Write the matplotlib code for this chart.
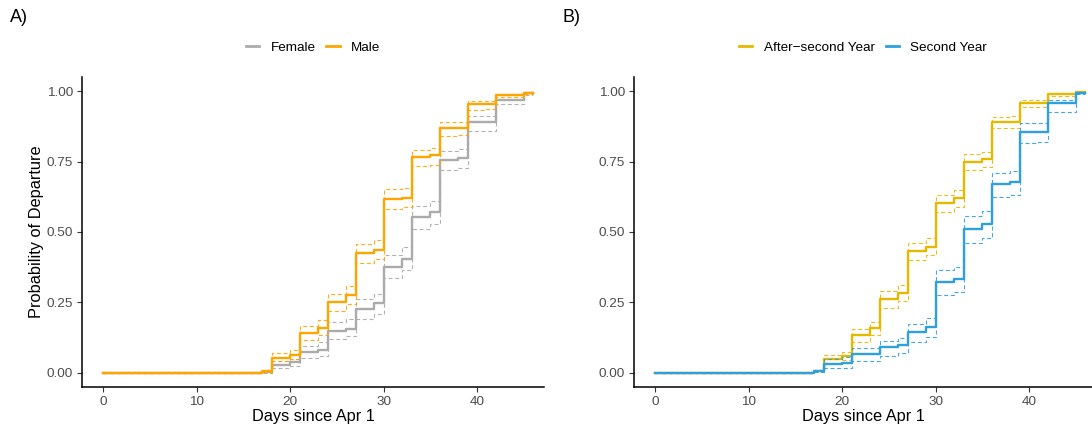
import numpy as np
import matplotlib
matplotlib.use("Agg")
import matplotlib.pyplot as plt

plt.rcParams['font.family'] = ['Liberation Sans', 'DejaVu Sans']

# days since Apr 1 where the curves change
days = [0, 17, 18, 20, 21, 23, 24, 26, 27, 29, 30, 32, 33, 35, 36, 38, 39, 41, 42, 44, 45, 46]

# panel A, sex
female = [0, 0.003, 0.029, 0.037, 0.073, 0.082, 0.147, 0.155, 0.228, 0.247, 0.377, 0.405,
          0.554, 0.570, 0.756, 0.761, 0.889, 0.889, 0.968, 0.968, 0.993, 0.993]
female_hi = [0, 0.006, 0.044, 0.050, 0.097, 0.110, 0.179, 0.190, 0.261, 0.280, 0.418, 0.445,
             0.591, 0.610, 0.789, 0.793, 0.912, 0.913, 0.986, 0.987, 0.998, 0.998]
female_lo = [0, 0.001, 0.019, 0.024, 0.052, 0.060, 0.122, 0.130, 0.193, 0.210, 0.338, 0.365,
             0.511, 0.530, 0.721, 0.727, 0.859, 0.860, 0.953, 0.954, 0.985, 0.985]
male = [0, 0.007, 0.054, 0.064, 0.141, 0.161, 0.250, 0.276, 0.426, 0.436, 0.617, 0.622,
        0.766, 0.773, 0.868, 0.870, 0.953, 0.955, 0.986, 0.987, 0.995, 0.995]
male_hi = [0, 0.010, 0.071, 0.082, 0.165, 0.188, 0.279, 0.309, 0.459, 0.471, 0.652, 0.655,
           0.792, 0.797, 0.889, 0.891, 0.965, 0.966, 0.989, 0.990, 0.997, 0.997]
male_lo = [0, 0.003, 0.044, 0.050, 0.118, 0.135, 0.218, 0.245, 0.390, 0.405, 0.582, 0.590,
           0.733, 0.738, 0.842, 0.845, 0.934, 0.936, 0.978, 0.980, 0.990, 0.990]

# panel B, age class
asy = [0, 0.005, 0.050, 0.061, 0.134, 0.158, 0.261, 0.285, 0.432, 0.448, 0.603, 0.621,
       0.750, 0.758, 0.892, 0.892, 0.956, 0.957, 0.989, 0.989, 0.996, 0.996]
asy_hi = [0, 0.008, 0.064, 0.075, 0.155, 0.180, 0.291, 0.312, 0.462, 0.477, 0.632, 0.648,
          0.776, 0.785, 0.909, 0.910, 0.968, 0.969, 0.993, 0.993, 0.998, 0.998]
asy_lo = [0, 0.002, 0.035, 0.046, 0.111, 0.135, 0.232, 0.255, 0.400, 0.418, 0.570, 0.590,
          0.721, 0.730, 0.868, 0.870, 0.942, 0.944, 0.982, 0.983, 0.992, 0.992]
sy = [0, 0.005, 0.032, 0.035, 0.066, 0.066, 0.091, 0.099, 0.144, 0.164, 0.323, 0.332,
      0.509, 0.529, 0.671, 0.676, 0.855, 0.856, 0.956, 0.956, 0.995, 0.995]
sy_hi = [0, 0.009, 0.049, 0.055, 0.090, 0.090, 0.114, 0.125, 0.175, 0.195, 0.364, 0.375,
         0.556, 0.574, 0.711, 0.716, 0.886, 0.887, 0.967, 0.967, 0.998, 0.998]
sy_lo = [0, 0.002, 0.016, 0.018, 0.041, 0.041, 0.061, 0.070, 0.108, 0.128, 0.276, 0.287,
         0.462, 0.480, 0.623, 0.630, 0.817, 0.818, 0.927, 0.927, 0.990, 0.990]

W, H = 1092, 433
fig = plt.figure(figsize=(W/100, H/100), dpi=100)

axA = fig.add_axes([82/W, (H-387)/H, 462/W, 310/H])
axB = fig.add_axes([634/W, (H-387)/H, 458/W, 310/H])

def curve(ax, est, hi, lo, col, lab):
    ax.step(days, hi, where='post', color=col, lw=0.8, ls=(0, (3.6, 2.4)), alpha=0.9)
    ax.step(days, lo, where='post', color=col, lw=0.8, ls=(0, (3.6, 2.4)), alpha=0.9)
    ax.step(days, est, where='post', color=col, lw=1.7, label=lab)

curve(axA, female, female_hi, female_lo, '#ABABAB', 'Female')
curve(axA, male, male_hi, male_lo, '#FFA500', 'Male')
curve(axB, asy, asy_hi, asy_lo, '#E7B800', 'After\u2212second Year')
curve(axB, sy, sy_hi, sy_lo, '#2E9FDF', 'Second Year')

axA.set_xlim(-2.3, 47.16)
axB.set_xlim(-2.3, 46.74)

for ax in [axA, axB]:
    ax.set_ylim(-0.05, 1.05)
    ax.set_xticks([0, 10, 20, 30, 40])
    ax.set_yticks([0, 0.25, 0.5, 0.75, 1.0])
    ax.set_yticklabels(['0.00', '0.25', '0.50', '0.75', '1.00'])
    ax.spines['top'].set_visible(False)
    ax.spines['right'].set_visible(False)
    ax.spines['left'].set_linewidth(1.1)
    ax.spines['bottom'].set_linewidth(1.1)
    ax.tick_params(length=3.5, width=0.8, color='#333333', labelcolor='#4D4D4D',
                   labelsize=9.7, pad=3)
    ax.set_xlabel('Days since Apr 1', fontsize=11.8, labelpad=1)
    leg = ax.legend(loc='lower center', bbox_to_anchor=(0.5, 1.035), ncol=2, frameon=False,
                    fontsize=9.7, handlelength=1.0, handletextpad=0.85, columnspacing=0.8)
    for l in leg.get_lines():
        l.set_linewidth(2)

axA.set_ylabel('Probability of Departure', fontsize=11.8, labelpad=2)

fig.text(10/W, 1 - 18/H, 'A)', fontsize=13, va='center', ha='left')
fig.text(562/W, 1 - 18/H, 'B)', fontsize=13, va='center', ha='left')

fig.savefig('out.png', dpi=100)
